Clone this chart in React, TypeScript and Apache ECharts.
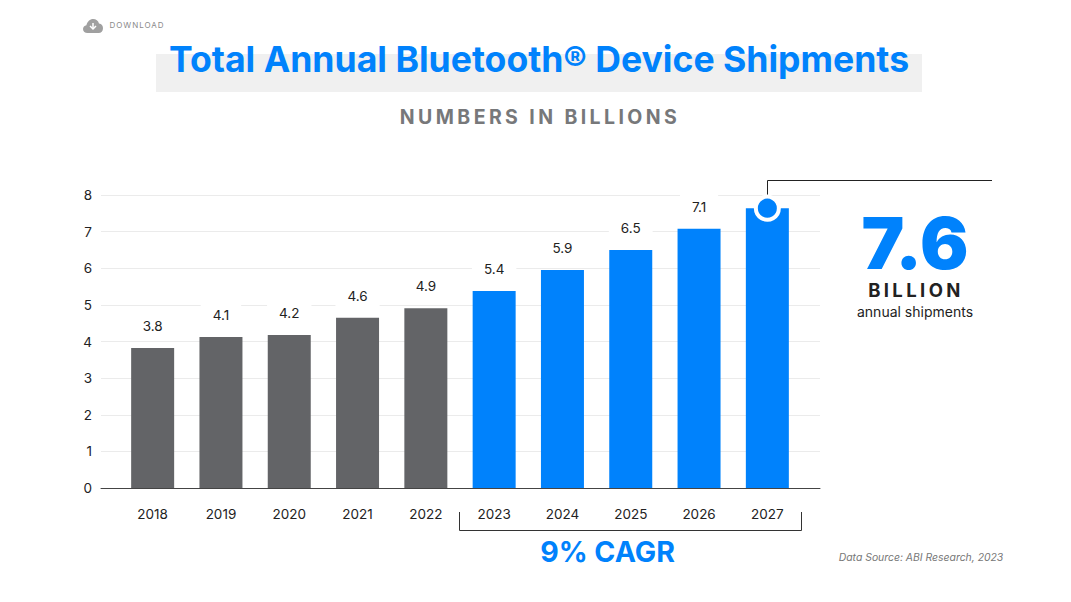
import React, { useEffect, useRef } from "react";
import * as echarts from "echarts";

const years = ["2018","2019","2020","2021","2022","2023","2024","2025","2026","2027"];
const shipments = [3.8,4.1,4.2,4.6,4.9,5.4,5.9,6.5,7.1,7.6];
const barValues = [3.82,4.12,4.18,4.65,4.91,5.38,5.95,6.5,7.08,7.64];
const yTicks = [0,1,2,3,4,5,6,7,8];
const highlight = ["2027", 7.64];
const GREY = "#636467";
const BLUE = "#0082FC";
const FONT = "Inter";
const SPACED: Record<string, string> = { "NUMBERS IN BILLIONS": "3.4px", "BILLION": "3.4px", "DOWNLOAD": "1px" };

const cloud = "M4.5 14 C2 14 0 12.4 0 10 C0 8 1.4 6.5 3.4 6.2 C4.2 2.6 7 0 10.2 0 C13 0 15.2 1.8 16 4.4 C18.6 4.6 20 6.8 20 9.2 C20 12 18.2 14 15.6 14 Z";
echarts.graphic.registerShape("cloudIcon", echarts.graphic.extendPath(cloud, {}));

export default function App() {
  const ref = useRef<HTMLDivElement>(null);
  useEffect(() => {
    const chart = echarts.init(ref.current!, undefined, { renderer: "svg" });
    const txt = (x: number, y: number, text: string, o: any = {}) => ({
      type: "text", x, y, z: 10,
      style: { text, fontFamily: FONT, textAlign: "center", textVerticalAlign: "middle", fill: "#222", ...o },
    });
    chart.setOption({
      animation: false,
      backgroundColor: "#fff",
      grid: [
        { left: 118.5, top: 195, width: 683, height: 293 },
        { left: 101, top: 195, width: 719, height: 293 },
      ],
      xAxis: [
        { type: "category", gridIndex: 0, data: years, axisLine: { show: false }, axisTick: { show: false },
          axisLabel: { margin: 19, fontFamily: FONT, fontSize: 13.5, color: "#222" } },
        { type: "value", gridIndex: 1, min: 0, max: 1, axisLabel: { show: false }, axisTick: { show: false }, splitLine: { show: false },
          axisLine: { show: true, onZero: false, lineStyle: { color: "#444", width: 1 } } },
      ],
      yAxis: [
        { type: "value", gridIndex: 0, min: 0, max: 8, interval: 1, axisLine: { show: false }, axisTick: { show: false },
          splitLine: { show: false }, axisLabel: { show: false } },
        { type: "value", gridIndex: 1, min: yTicks[0], max: yTicks[yTicks.length - 1], interval: 1, axisLine: { show: false }, axisTick: { show: false },
          splitLine: { show: true, lineStyle: { color: "#EBEBEB", width: 1 } },
          axisLabel: { margin: 9, fontFamily: FONT, fontSize: 13.5, color: "#222" } },
      ],
      series: [
        {
          type: "bar", xAxisIndex: 0, yAxisIndex: 0, barWidth: 43, z: 3,
          data: barValues.map((v, i) => ({
            value: v,
            itemStyle: { color: i < 5 ? GREY : BLUE },
            label: {
              show: i < 9, position: "top", distance: 8, formatter: () => shipments[i].toFixed(1),
              fontFamily: FONT, fontSize: 13.5, color: "#222", backgroundColor: "#fff", padding: [7, 12],
            },
          })),
        },
        {
          type: "scatter", xAxisIndex: 0, yAxisIndex: 0, z: 5, symbolSize: 23, silent: true,
          data: [highlight],
          itemStyle: { color: BLUE, borderColor: "#fff", borderWidth: 4, opacity: 1 },
        },
      ],
      graphic: [
        { type: "rect", z: 0, shape: { x: 156, y: 54, width: 766, height: 38 }, style: { fill: "#F0F0F0" } },
        txt(539, 59, "Total Annual Bluetooth® Device Shipments", { fontSize: 35.6, fontWeight: 700, fill: BLUE }),
        txt(540, 117, "NUMBERS IN BILLIONS", { fontSize: 19.5, fontWeight: 700, fill: "#77787A" }),
        { type: "cloudIcon", x: 83, y: 19, z: 10, scaleX: 1, scaleY: 1, style: { fill: "#A0A0A0" } },
        { type: "polyline", z: 11, shape: { points: [[90, 26], [93, 29], [96, 26]] }, style: { stroke: "#fff", fill: "none", lineWidth: 1.5 } },
        { type: "line", z: 11, shape: { x1: 93, y1: 23, x2: 93, y2: 28 }, style: { stroke: "#fff", lineWidth: 1.5 } },
        txt(137, 25, "DOWNLOAD", { fontSize: 8, fill: "#8A8A8A" }),
        { type: "polyline", z: 1, shape: { points: [[767.5, 200], [767.5, 180.5], [992, 180.5]] }, style: { stroke: "#222", fill: "none", lineWidth: 1 } },
        txt(915, 242, "7.6", { fontSize: 72, fontWeight: 900, fill: BLUE }),
        txt(916, 290, "BILLION", { fontSize: 18.5, fontWeight: 700, fill: "#222" }),
        txt(915, 311, "annual shipments", { fontSize: 14, fill: "#222" }),
        { type: "polyline", z: 10, shape: { points: [[459.5, 512], [459.5, 530.5], [801.5, 530.5], [801.5, 512]] }, style: { stroke: "#333", fill: "none", lineWidth: 1 } },
        txt(607.5, 551, "9% CAGR", { fontSize: 28.5, fontWeight: 700, fill: BLUE }),
        txt(921, 557, "Data Source: ABI Research, 2023", { fontSize: 10.4, fontStyle: "italic", fill: "#777" }),
      ],
    });
    ref.current!.querySelectorAll("text").forEach((t) => {
      const s = SPACED[t.textContent || ""];
      if (s) t.style.letterSpacing = s;
    });
    return () => chart.dispose();
  }, []);
  return <div ref={ref} style={{ position: "absolute", left: 0, top: 0, width: 1071, height: 602 }} />;
}
